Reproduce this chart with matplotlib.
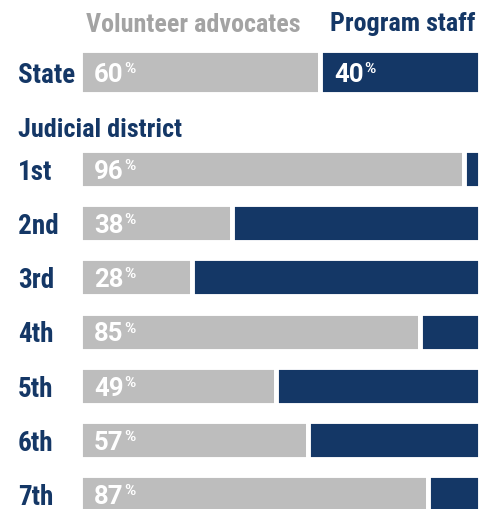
import matplotlib
matplotlib.use("Agg")
import matplotlib.pyplot as plt
from matplotlib.transforms import blended_transform_factory

plt.rcParams['font.family'] = ['Roboto Condensed', 'DejaVu Sans']

# Data
categories = ["State", "1st", "2nd", "3rd", "4th", "5th", "6th", "7th"]
volunteer = [60, 96, 38, 28, 85, 49, 57, 87]
staff = [40, 4, 62, 72, 15, 51, 43, 13]
series_names = ["Volunteer advocates", "Program staff"]
group_header = "Judicial district"

# Styling / layout
GRAY = "#BDBDBD"
NAVY = "#143766"
HEAD_GRAY = "#A3A3A3"
W, H, DPI = 479, 510, 100
row_px = 54.2
state_px = 73.0
positions = [0.0] + [1.79 + i for i in range(7)]
heights = [0.81] + [0.70] * 7

fig = plt.figure(figsize=(W / DPI, H / DPI), dpi=DPI)
ax_left = 79.5 / W
ax_w = 400.0 / W
ax = fig.add_axes([ax_left, 0, ax_w, 1])
ax.set_xlim(0, 100)
ax.set_ylim((H - state_px) / row_px, -state_px / row_px)
ax.axis('off')

for y, v, s, h in zip(positions, volunteer, staff, heights):
    ax.barh(y, v, left=0, height=h, color=GRAY, edgecolor='white', linewidth=3.5)
    ax.barh(y, s, left=v, height=h, color=NAVY, edgecolor='white', linewidth=3.5)

fig.canvas.draw()
renderer = fig.canvas.get_renderer()
PX2PT = 72.0 / DPI
NUM_FS = 18.5
PCT_FS = 11
X_OFF = 10.5
BASE_OFF = -6.3

def pct_label(x, y, val):
    t = ax.annotate(f"{val}", xy=(x, y), xytext=(X_OFF, BASE_OFF), textcoords='offset points',
                    ha='left', va='baseline', color='white', fontsize=NUM_FS,
                    fontweight='bold', family=['Roboto', 'DejaVu Sans'])
    bb = t.get_window_extent(renderer)
    wpt = bb.width * PX2PT
    ax.annotate("%", xy=(x, y), xytext=(X_OFF + wpt + 0.6, BASE_OFF + 6.3),
                textcoords='offset points', ha='left', va='baseline',
                color='white', fontsize=PCT_FS, fontweight='bold',
                family=['Roboto', 'DejaVu Sans'])

for y, v in zip(positions, volunteer):
    pct_label(0, y, v)
pct_label(volunteer[0], positions[0], staff[0])

# Row labels
trans = blended_transform_factory(fig.transFigure, ax.transData)
for y, c in zip(positions, categories):
    ax.annotate(c, xy=(18 / W, y), xycoords=trans, xytext=(0, -7.0),
                textcoords='offset points', ha='left', va='baseline',
                color=NAVY, fontsize=19.5, fontweight='bold')
ax.text(18 / W, 1.0, group_header, transform=trans, ha='left', va='center_baseline',
        color=NAVY, fontsize=18.8, fontweight='bold')

# Series headers
fig.text(193 / W, 1 - 22 / H, series_names[0], ha='center', va='center_baseline',
         color=HEAD_GRAY, fontsize=18.8, fontweight='bold')
fig.text(475 / W, 1 - 22 / H, series_names[1], ha='right', va='center_baseline',
         color=NAVY, fontsize=18.8, fontweight='bold')

fig.savefig("out.png", dpi=DPI, facecolor='white')
